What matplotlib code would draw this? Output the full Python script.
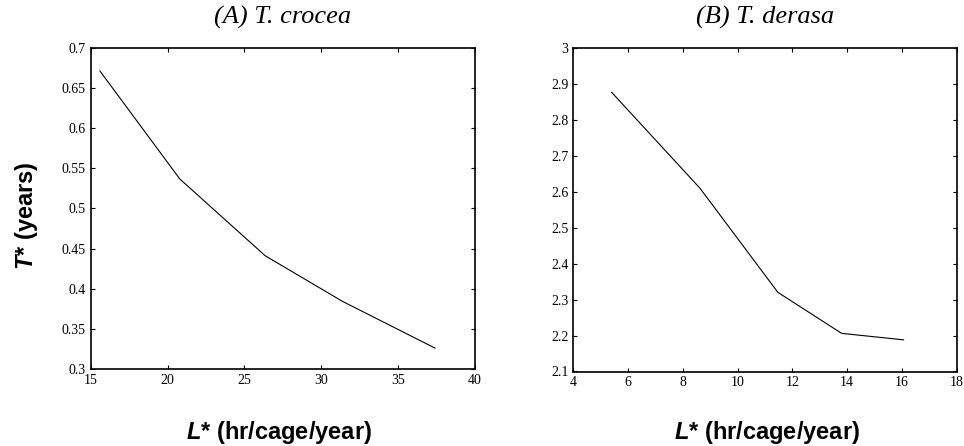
import matplotlib
matplotlib.use("Agg")
import matplotlib.pyplot as plt

plt.rcParams['mathtext.fontset'] = 'custom'
plt.rcParams['mathtext.bfit'] = 'Liberation Sans:italic:bold'
plt.rcParams['mathtext.rm'] = 'Liberation Sans:bold'

# (A) T. crocea
crocea_L = [15.6, 20.8, 26.35, 31.4, 37.4]
crocea_T = [0.671, 0.5365, 0.441, 0.384, 0.326]

# (B) T. derasa
derasa_L = [5.4, 8.63, 11.47, 13.8, 16.06]
derasa_T = [2.876, 2.609, 2.320, 2.206, 2.188]

crocea_xticks = [15, 20, 25, 30, 35, 40]
crocea_yticks = [0.3, 0.35, 0.4, 0.45, 0.5, 0.55, 0.6, 0.65, 0.7]
crocea_ylabels = ["0.3", "0.35", "0.4", "0.45", "0.5", "0.55", "0.6", "0.65", "0.7"]
derasa_xticks = [4, 6, 8, 10, 12, 14, 16, 18]
derasa_yticks = [2.1, 2.2, 2.3, 2.4, 2.5, 2.6, 2.7, 2.8, 2.9, 3.0]
derasa_ylabels = ["2.1", "2.2", "2.3", "2.4", "2.5", "2.6", "2.7", "2.8", "2.9", "3"]

W, H = 964, 446
fig = plt.figure(figsize=(W / 100, H / 100), dpi=100)


def box(x0, y0, x1, y1):
    # pixel box (top-left origin) -> figure fraction
    return [x0 / W, 1 - y1 / H, (x1 - x0) / W, (y1 - y0) / H]


ax1 = fig.add_axes(box(90.7, 47.7, 475, 369))
ax2 = fig.add_axes(box(573.3, 47.7, 956.7, 371.5))

panels = [
    (ax1, crocea_L, crocea_T, crocea_xticks, crocea_yticks, crocea_ylabels),
    (ax2, derasa_L, derasa_T, derasa_xticks, derasa_yticks, derasa_ylabels),
]
for ax, x, y, xt, yt, yl in panels:
    ax.plot(x, y, color='black', lw=0.8)
    ax.set_xlim(xt[0], xt[-1])
    ax.set_ylim(yt[0], yt[-1])
    ax.set_xticks(xt)
    ax.set_xticklabels([str(v) for v in xt])
    ax.set_yticks(yt)
    ax.set_yticklabels(yl)
    ax.tick_params(direction='in', length=3, width=0.8, top=True, right=True,
                   labelsize=10, pad=3.5)
    for lab in ax.get_xticklabels() + ax.get_yticklabels():
        lab.set_fontfamily('Liberation Serif')
    for s in ax.spines.values():
        s.set_linewidth(1.2)

title_kw = dict(fontsize=19, fontfamily='Liberation Serif', style='italic',
                ha='center', va='center')
fig.text(283 / W, 1 - 17 / H, "(A) T. crocea", **title_kw)
fig.text(765 / W, 1 - 17 / H, "(B) T. derasa", **title_kw)

lab_kw = dict(fontsize=17, fontfamily='Liberation Sans', fontweight='bold',
              ha='center', va='center')
fig.text(279 / W, 1 - 432 / H, r"$\mathbfit{L}$* (hr/cage/year)", **lab_kw)
fig.text(767 / W, 1 - 432 / H, r"$\mathbfit{L}$* (hr/cage/year)", **lab_kw)
fig.text(26 / W, 1 - 216 / H, r"$\mathbfit{T}$* (years)", rotation=90, **lab_kw)

fig.savefig("out.png", dpi=100)
